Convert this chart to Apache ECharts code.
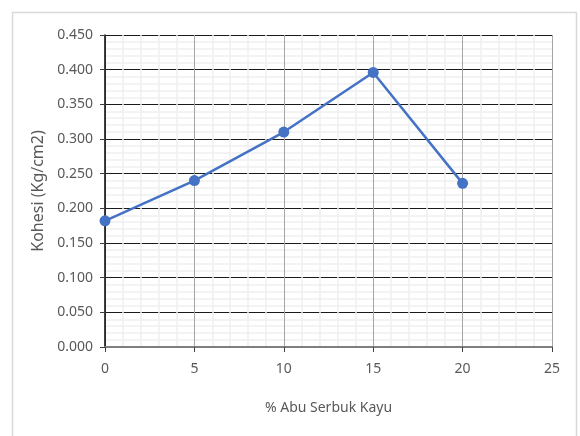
<!DOCTYPE html>
<html>
<head>
<meta charset="utf-8">
<script src="https://cdn.jsdelivr.net/npm/echarts@6/dist/echarts.min.js"></script>
<style>
    html, body { margin: 0; padding: 0; background: #fff; }
    #chart { width: 580px; height: 436px; }
</style>
</head>
<body>
<div id="chart"></div>
<script>
let chart = echarts.init(document.getElementById('chart'));

// data
let abu_serbuk = [0, 5, 10, 15, 20];
let kohesi = [0.182, 0.240, 0.310, 0.396, 0.236];

let points = abu_serbuk.map((x, i) => [x, kohesi[i]]);

let labelFont = '"Noto Sans", sans-serif';

let option = {
    animation: false,
    backgroundColor: '#fff',
    graphic: [{
        type: 'rect',
        shape: {x: 12.5, y: 12.5, width: 564, height: 440},
        style: {fill: 'none', stroke: '#d9d9d9', lineWidth: 1.5},
        silent: true,
        z: -1
    }],
    grid: {
        left: 105,
        right: 28,
        top: 35,
        bottom: 89
    },
    xAxis: {
        type: 'value',
        min: 0,
        max: 25,
        interval: 5,
        name: '% Abu Serbuk Kayu',
        nameLocation: 'middle',
        nameGap: 54,
        nameTextStyle: {color: '#595959', fontSize: 14, fontFamily: labelFont},
        axisLine: {show: true, lineStyle: {color: '#7f7f7f', width: 2}},
        axisTick: {show: true, inside: false, length: 5, lineStyle: {color: '#404040'}},
        axisLabel: {color: '#595959', fontSize: 14, fontFamily: labelFont, margin: 15},
        splitLine: {show: true, lineStyle: {color: '#a6a6a6', width: 1}},
        minorTick: {show: false, splitNumber: 5},
        minorSplitLine: {show: true, lineStyle: {color: '#f0f0f0', width: 1.5}}
    },
    yAxis: {
        type: 'value',
        min: 0,
        max: 0.45,
        interval: 0.05,
        name: 'Kohesi (Kg/cm2)',
        nameLocation: 'middle',
        nameGap: 58,
        nameTextStyle: {color: '#595959', fontSize: 16, fontFamily: labelFont},
        axisLine: {show: true, lineStyle: {color: '#000', width: 1.5}},
        axisTick: {show: true, inside: false, length: 5, lineStyle: {color: '#404040'}},
        axisLabel: {
            color: '#595959', fontSize: 14, fontFamily: labelFont, margin: 12,
            formatter: v => v.toFixed(3)
        },
        splitLine: {show: true, lineStyle: {color: '#1a1a1a', width: 1.2}},
        minorTick: {show: false, splitNumber: 5},
        minorSplitLine: {show: true, lineStyle: {color: '#f0f0f0', width: 1.5}}
    },
    series: [{
        name: 'Kohesi',
        type: 'line',
        data: points,
        symbol: 'circle',
        symbolSize: 11,
        lineStyle: {color: '#4472c4', width: 2.5},
        itemStyle: {color: '#4472c4'},
        z: 5
    }]
};

chart.setOption(option);
</script>
</body>
</html>
